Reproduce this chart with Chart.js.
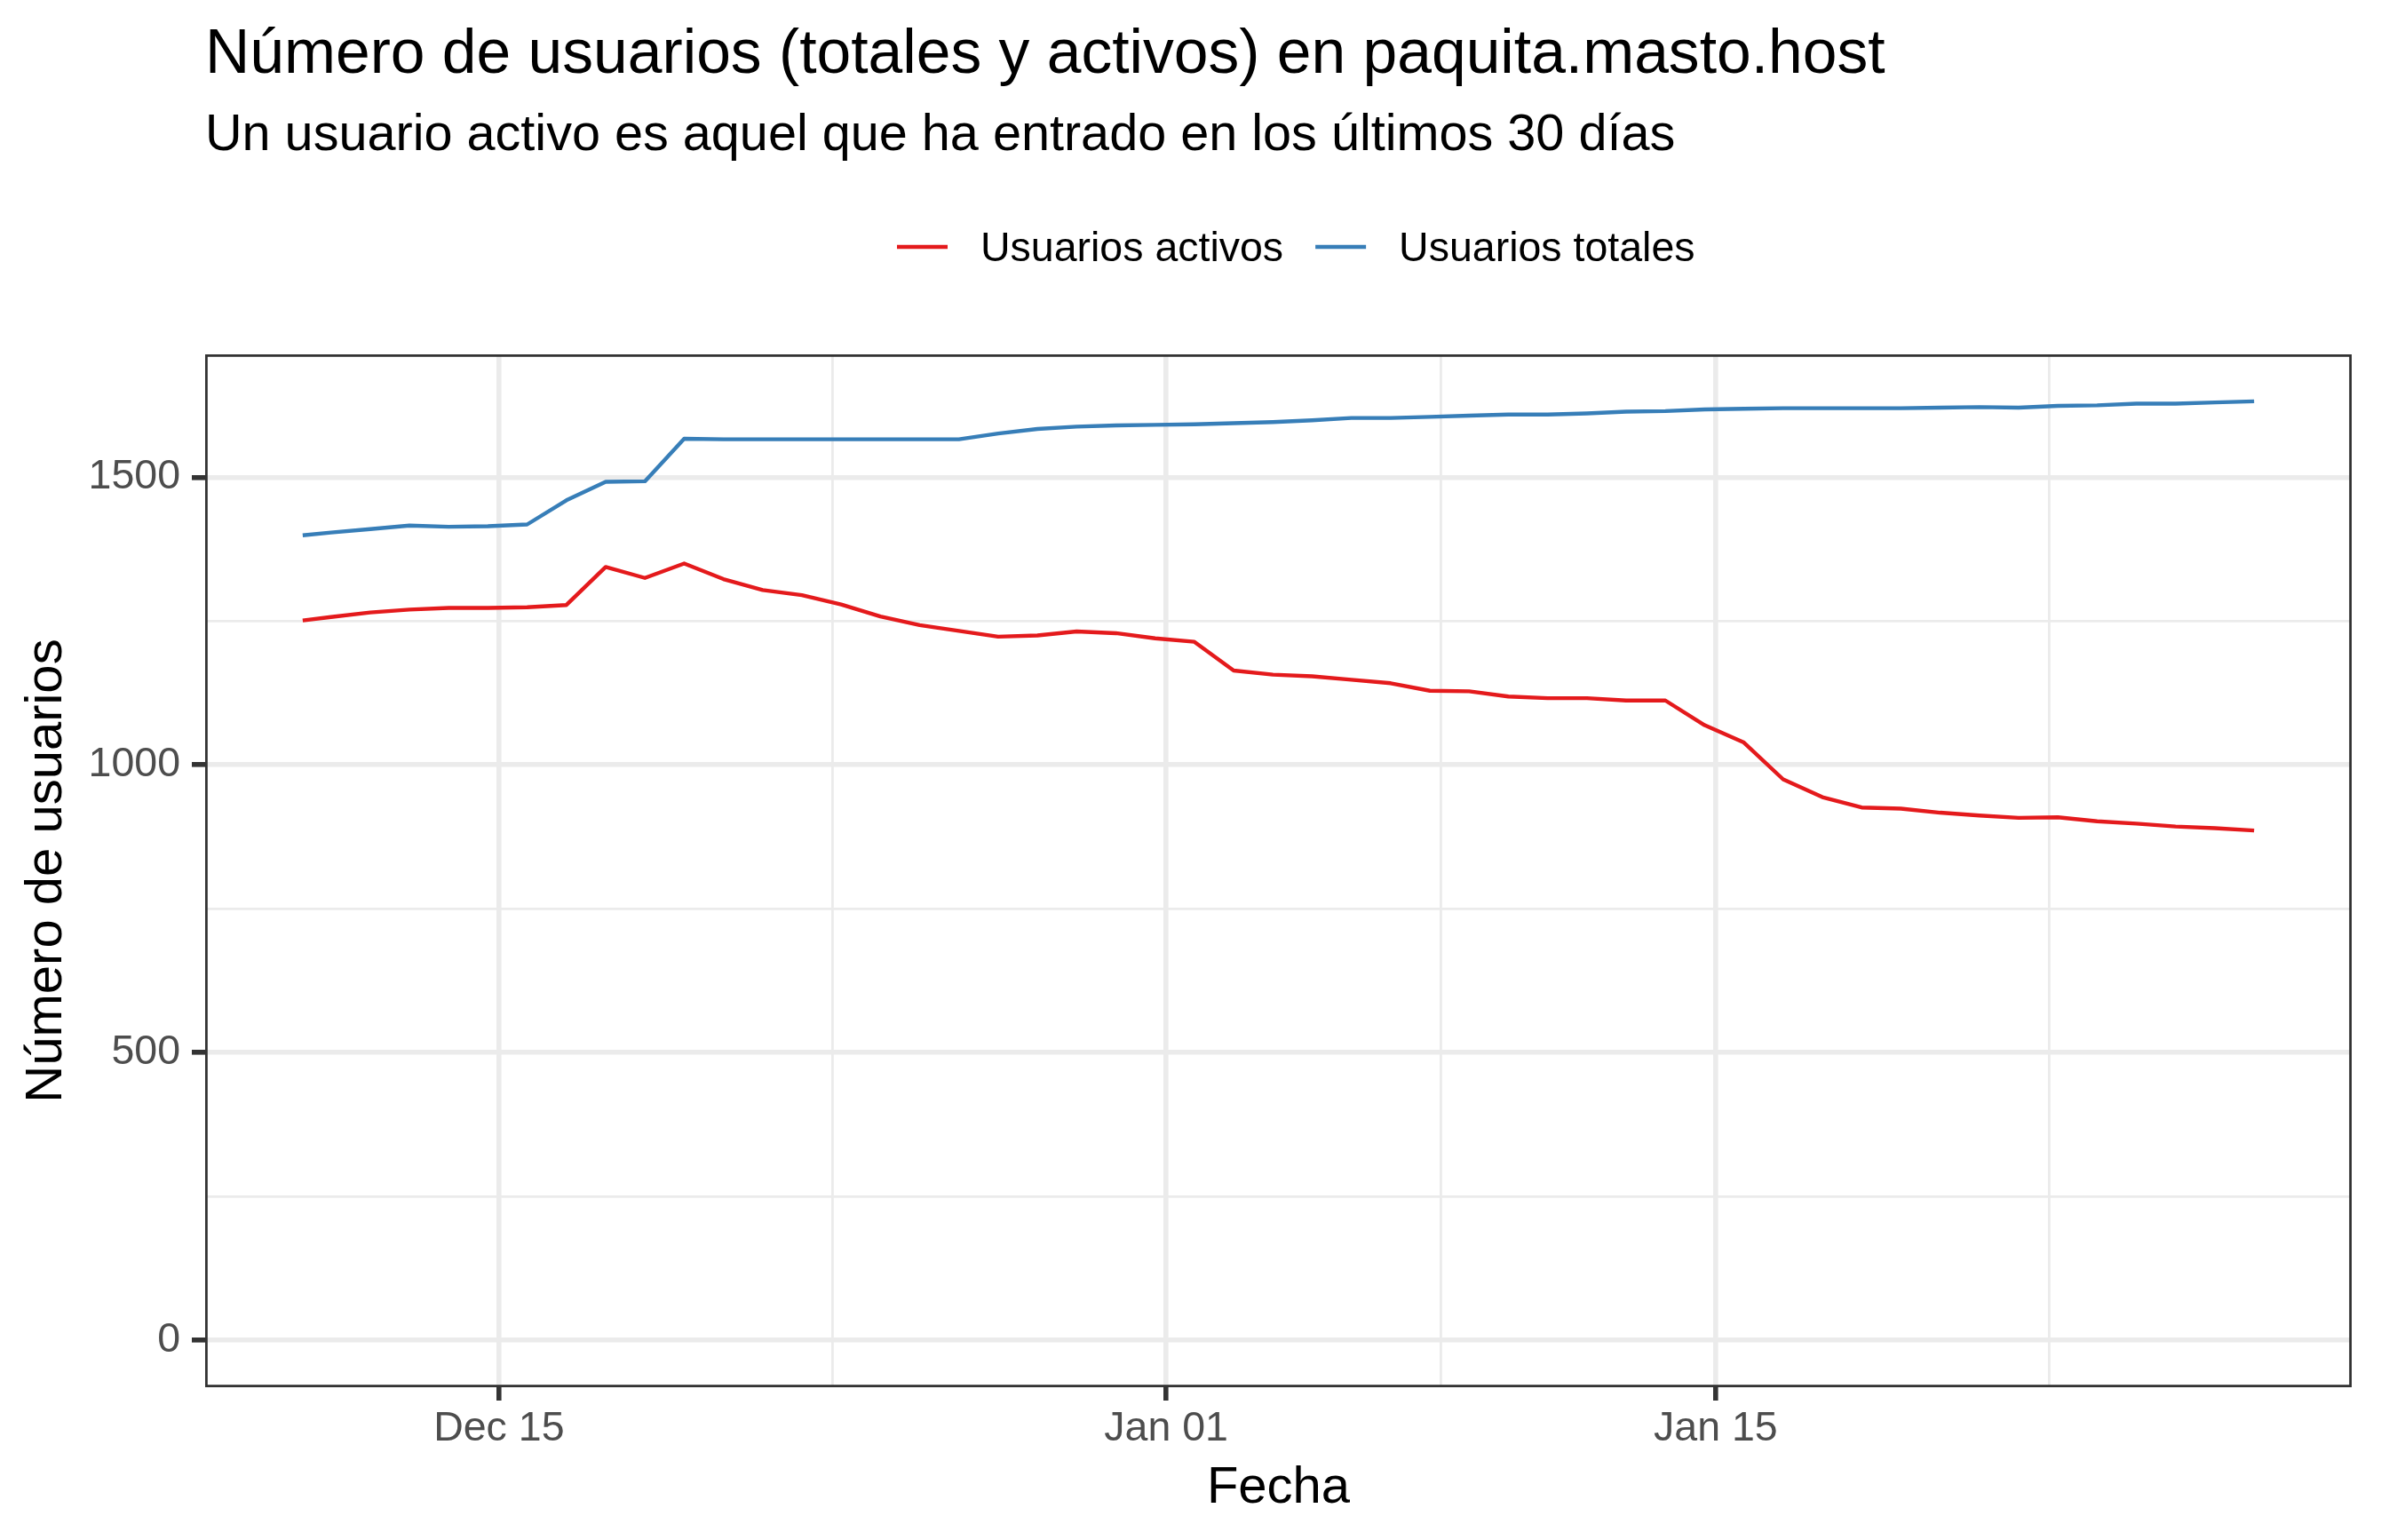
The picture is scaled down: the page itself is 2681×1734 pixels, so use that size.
<!DOCTYPE html>
<html>
<head>
<meta charset="utf-8">
<script src="https://cdn.jsdelivr.net/npm/chart.js@4/dist/chart.umd.min.js"></script>
<style>
  html, body { margin: 0; padding: 0; background: #ffffff; }
  #wrap { width: 2681px; height: 1734px; }
</style>
</head>
<body>
<div id="wrap"><canvas id="usuariosChart" width="2681" height="1734"></canvas></div>
<script>
// Fechas de cada lectura (UTC)
var fechas = [
  '2022-12-10T00:00', '2022-12-10T17:15', '2022-12-11T17:15', '2022-12-12T17:15', '2022-12-13T17:15',
  '2022-12-14T17:15', '2022-12-15T17:15', '2022-12-16T17:15', '2022-12-17T17:15', '2022-12-18T17:15',
  '2022-12-19T17:15', '2022-12-20T17:15', '2022-12-21T17:15', '2022-12-22T17:15', '2022-12-23T17:15',
  '2022-12-24T17:15', '2022-12-25T17:15', '2022-12-26T17:15', '2022-12-27T17:15', '2022-12-28T17:15',
  '2022-12-29T17:15', '2022-12-30T17:15', '2022-12-31T17:15', '2023-01-01T17:15', '2023-01-02T17:15',
  '2023-01-03T17:15', '2023-01-04T17:15', '2023-01-05T17:15', '2023-01-06T17:15', '2023-01-07T17:15',
  '2023-01-08T17:15', '2023-01-09T17:15', '2023-01-10T17:15', '2023-01-11T17:15', '2023-01-12T17:15',
  '2023-01-13T17:15', '2023-01-14T17:15', '2023-01-15T17:15', '2023-01-16T17:15', '2023-01-17T17:15',
  '2023-01-18T17:15', '2023-01-19T17:15', '2023-01-20T17:15', '2023-01-21T17:15', '2023-01-22T17:15',
  '2023-01-23T17:15', '2023-01-24T17:15', '2023-01-25T17:15', '2023-01-26T17:15', '2023-01-27T17:15',
  '2023-01-28T17:15'
];

var usuariosActivos = [
  1251, 1257, 1265, 1270, 1273, 1273, 1274, 1278, 1344, 1325,
  1350, 1323, 1304, 1295, 1279, 1258, 1243, 1233, 1223, 1225,
  1232, 1229, 1220, 1214, 1164, 1157, 1154, 1148, 1142, 1129,
  1128, 1119, 1116, 1116, 1112, 1112, 1069, 1039, 975, 944,
  926, 924, 917, 912, 908, 909, 902, 898, 893, 890,
  886
];

var usuariosTotales = [
  1399, 1404, 1410, 1416, 1414, 1415, 1418, 1460, 1492, 1493,
  1567, 1566, 1566, 1566, 1566, 1566, 1566, 1566, 1576, 1584,
  1588, 1590, 1591, 1592, 1594, 1596, 1599, 1603, 1603, 1605,
  1607, 1609, 1609, 1611, 1614, 1615, 1618, 1619, 1620, 1620,
  1620, 1620, 1621, 1622, 1621, 1624, 1625, 1628, 1628, 1630,
  1632
];

var series = ['Usuarios activos', 'Usuarios totales'];
var colores = ['#E41A1C', '#377EB8'];

// Marcas del eje x
var xTickFechas = ['2022-12-15T00:00', '2023-01-01T00:00', '2023-01-15T00:00'];
var xTickLabels = ['Dec 15', 'Jan 01', 'Jan 15'];
var xMinorFechas = ['2022-12-23T12:00', '2023-01-08T00:00', '2023-01-23T12:00'];

// Marcas del eje y
var yTicks = [0, 500, 1000, 1500];
var yMinor = [250, 750, 1250];

var FUENTE = "'Liberation Sans', Arial, Helvetica, sans-serif";

function dias(f) {
  return (Date.parse(f + 'Z') - Date.parse('2023-01-01T00:00Z')) / 86400000;
}

var xs = fechas.map(dias);
var xMajor = xTickFechas.map(dias);
var xMinor = xMinorFechas.map(dias);

var span = xs[xs.length - 1] - xs[0];
var yMaxData = Math.max.apply(null, usuariosTotales.concat(usuariosActivos));

function puntos(vals) {
  return vals.map(function (v, i) { return { x: xs[i], y: v }; });
}

function esMayor(lista, v) {
  return lista.some(function (m) { return Math.abs(m - v) < 1e-6; });
}

// Titulo, subtitulo, leyenda y borde del panel
var adornos = {
  id: 'adornos',
  afterDraw: function (chart) {
    var ctx = chart.ctx;
    var a = chart.chartArea;
    ctx.save();

    // borde del panel
    ctx.strokeStyle = '#333333';
    ctx.lineWidth = 2.8;
    ctx.strokeRect(a.left + 1.4, a.top + 1.4, a.right - a.left - 2.8, a.bottom - a.top - 2.8);

    ctx.fillStyle = '#000000';
    ctx.textBaseline = 'alphabetic';
    ctx.textAlign = 'left';
    ctx.font = '69.6px ' + FUENTE;
    ctx.fillText('Número de usuarios (totales y activos) en paquita.masto.host', 231, 82);
    ctx.font = '57.6px ' + FUENTE;
    ctx.fillText('Un usuario activo es aquel que ha entrado en los últimos 30 días', 231, 169);

    // leyenda
    ctx.font = '46.5px ' + FUENTE;
    var x = 1010;
    chart.data.datasets.forEach(function (ds) {
      ctx.strokeStyle = ds.borderColor;
      ctx.lineWidth = 4.4;
      ctx.lineCap = 'butt';
      ctx.beginPath();
      ctx.moveTo(x, 278);
      ctx.lineTo(x + 57, 278);
      ctx.stroke();
      ctx.fillStyle = '#000000';
      ctx.fillText(ds.label, x + 94, 294);
      x += 94 + ctx.measureText(ds.label).width + 36;
    });
    ctx.restore();
  }
};

var ctx = document.getElementById('usuariosChart').getContext('2d');
var usuariosChart = new Chart(ctx, {
  type: 'line',
  data: {
    datasets: [
      {
        label: series[0],
        data: puntos(usuariosActivos),
        borderColor: colores[0],
        backgroundColor: colores[0],
        borderWidth: 4.4,
        pointRadius: 0,
        tension: 0,
        borderJoinStyle: 'round'
      },
      {
        label: series[1],
        data: puntos(usuariosTotales),
        borderColor: colores[1],
        backgroundColor: colores[1],
        borderWidth: 4.4,
        pointRadius: 0,
        tension: 0,
        borderJoinStyle: 'round'
      }
    ]
  },
  options: {
    responsive: false,
    devicePixelRatio: 1,
    animation: false,
    events: [],
    layout: { padding: { top: 399, right: 33, bottom: 0, left: 0 } },
    plugins: {
      legend: { display: false },
      title: { display: false },
      tooltip: { enabled: false }
    },
    scales: {
      x: {
        type: 'linear',
        min: xs[0] - 0.05 * span,
        max: xs[xs.length - 1] + 0.05 * span,
        afterBuildTicks: function (scale) {
          scale.ticks = xMajor.concat(xMinor).sort(function (a, b) { return a - b; })
            .map(function (v) { return { value: v }; });
        },
        afterFit: function (scale) { scale.height = 172; },
        border: { display: false },
        grid: {
          color: '#EBEBEB',
          lineWidth: function (c) { return c.tick && esMayor(xMajor, c.tick.value) ? 5.6 : 2.8; },
          tickColor: function (c) { return c.tick && esMayor(xMajor, c.tick.value) ? '#333333' : 'rgba(0,0,0,0)'; },
          tickWidth: 5.6,
          tickLength: 15
        },
        ticks: {
          autoSkip: false,
          maxRotation: 0,
          padding: 4,
          color: '#4D4D4D',
          font: { family: FUENTE, size: 46.5 },
          callback: function (v) {
            for (var i = 0; i < xMajor.length; i++) {
              if (Math.abs(xMajor[i] - v) < 1e-6) return xTickLabels[i];
            }
            return '';
          }
        },
        title: {
          display: true,
          text: 'Fecha',
          color: '#000000',
          font: { family: FUENTE, size: 58 },
          padding: { top: 0, bottom: 23 }
        }
      },
      y: {
        type: 'linear',
        min: -0.05 * yMaxData,
        max: 1.05 * yMaxData,
        afterBuildTicks: function (scale) {
          scale.ticks = yTicks.concat(yMinor).sort(function (a, b) { return a - b; })
            .map(function (v) { return { value: v }; });
        },
        afterFit: function (scale) { scale.width = 231; },
        border: { display: false },
        grid: {
          color: '#EBEBEB',
          lineWidth: function (c) { return c.tick && esMayor(yTicks, c.tick.value) ? 5.6 : 2.8; },
          tickColor: function (c) { return c.tick && esMayor(yTicks, c.tick.value) ? '#333333' : 'rgba(0,0,0,0)'; },
          tickWidth: 5.6,
          tickLength: 15
        },
        ticks: {
          autoSkip: false,
          padding: 13,
          color: '#4D4D4D',
          font: { family: FUENTE, size: 46.5 },
          callback: function (v) { return esMayor(yTicks, v) ? String(v) : ''; }
        },
        title: {
          display: true,
          text: 'Número de usuarios',
          color: '#000000',
          font: { family: FUENTE, size: 58 },
          padding: { top: 18, bottom: 0 }
        }
      }
    }
  },
  plugins: [adornos]
});
</script>
</body>
</html>
